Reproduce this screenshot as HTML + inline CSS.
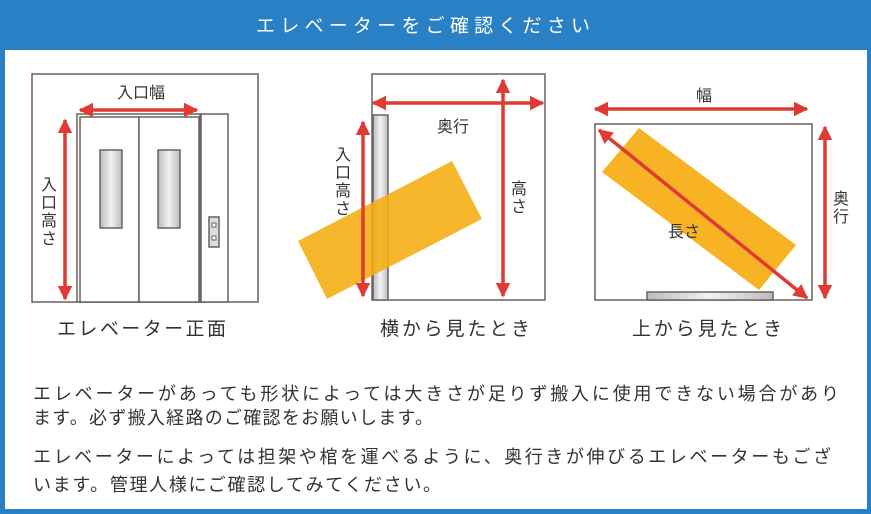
<!DOCTYPE html>
<html><head><meta charset="utf-8"><style>
html,body{margin:0;padding:0;background:#fff;}
svg{display:block;}
text{font-family:"Liberation Sans","Noto Sans CJK JP",sans-serif;fill:#333;}
</style></head><body>
<svg width="871" height="514" viewBox="0 0 871 514" xmlns="http://www.w3.org/2000/svg">
<defs>
<marker id="ah" viewBox="0 0 10 10" refX="9" refY="5" markerWidth="4.2" markerHeight="4.2" orient="auto-start-reverse" markerUnits="strokeWidth">
<path d="M0,0 L10,5 L0,10 z" fill="#e03a34"/></marker>
<linearGradient id="gw" x1="0" x2="1"><stop offset="0" stop-color="#bbb"/><stop offset="0.5" stop-color="#f2f2f2"/><stop offset="1" stop-color="#bbb"/></linearGradient>
</defs>
<rect x="0" y="0" width="871" height="514" fill="#2a80c5"/>
<rect x="5" y="50" width="862" height="459" fill="#fff"/>
<text x="256" y="32" font-size="19" style="fill:#fff" textLength="334">エレベーターをご確認ください</text>

<!-- panel 1 -->
<g stroke="#6a625f" stroke-width="1.5" fill="#fff">
<rect x="32" y="74" width="226" height="228"/>
<rect x="77" y="114" width="123" height="188"/>
<rect x="80" y="117" width="59" height="185"/>
<rect x="139" y="117" width="60" height="185"/>
<rect x="201" y="114" width="27" height="188"/>
<rect x="100" y="150" width="22" height="78" fill="url(#gw)"/>
<rect x="158" y="150" width="22" height="78" fill="url(#gw)"/>
<rect x="209" y="217" width="10" height="30" fill="#ddd"/>
<rect x="212" y="223" width="4" height="4" fill="#fff" stroke-width="1"/>
<rect x="212" y="236" width="4" height="4" fill="#fff" stroke-width="1"/>
</g>
<g stroke="#e03a34" stroke-width="3.5" marker-start="url(#ah)" marker-end="url(#ah)">
<line x1="80" y1="110" x2="197" y2="110"/>
<line x1="65" y1="120" x2="65" y2="299"/>
</g>
<text x="141" y="98" font-size="16" text-anchor="middle">入口幅</text>
<text x="49" y="190" font-size="16" text-anchor="middle">入</text>
<text x="49" y="208" font-size="16" text-anchor="middle">口</text>
<text x="49" y="226" font-size="16" text-anchor="middle">高</text>
<text x="49" y="244" font-size="16" text-anchor="middle">さ</text>
<text x="57" y="335" font-size="19" textLength="169">エレベーター正面</text>

<!-- panel 2 -->
<g stroke="#6a625f" stroke-width="1.5" fill="#fff">
<rect x="372" y="74" width="173" height="226"/>
<rect x="373" y="115" width="15" height="185" fill="url(#gw)"/>
</g>
<polygon points="298,241 452,161 482,219 327,299" fill="#f6ad10" opacity="0.88"/>
<g stroke="#e03a34" stroke-width="3.5" marker-start="url(#ah)" marker-end="url(#ah)">
<line x1="373" y1="103" x2="543" y2="103"/>
<line x1="503" y1="80" x2="503" y2="296"/>
<line x1="363" y1="122" x2="363" y2="296"/>
</g>
<text x="453" y="132" font-size="16" text-anchor="middle">奥行</text>
<text x="519" y="194" font-size="16" text-anchor="middle">高</text>
<text x="519" y="212" font-size="16" text-anchor="middle">さ</text>
<text x="343" y="160" font-size="16" text-anchor="middle">入</text>
<text x="343" y="178" font-size="16" text-anchor="middle">口</text>
<text x="343" y="196" font-size="16" text-anchor="middle">高</text>
<text x="343" y="214" font-size="16" text-anchor="middle">さ</text>
<text x="380" y="335" font-size="19" textLength="150">横から見たとき</text>

<!-- panel 3 -->
<g stroke="#6a625f" stroke-width="1.5" fill="#fff">
<rect x="595" y="124" width="217" height="176"/>
<rect x="647" y="292" width="126" height="8" fill="url(#gw)"/>
</g>
<polygon points="639,128 796,245 759,290 602,172" fill="#f6ad10" opacity="0.92"/>
<g stroke="#e03a34" stroke-width="3.5" marker-start="url(#ah)" marker-end="url(#ah)">
<line x1="595" y1="109" x2="807" y2="109"/>
<line x1="825" y1="127" x2="825" y2="298"/>
<line x1="599" y1="130" x2="807" y2="298"/>
</g>
<text x="704" y="101" font-size="16" text-anchor="middle">幅</text>
<text x="684" y="237" font-size="16" text-anchor="middle">長さ</text>
<text x="841" y="204" font-size="16" text-anchor="middle">奥</text>
<text x="841" y="222" font-size="16" text-anchor="middle">行</text>
<text x="632" y="335" font-size="19" textLength="150">上から見たとき</text>

<!-- text -->
<g font-size="18">
<text x="33" y="400" textLength="806">エレベーターがあっても形状によっては大きさが足りず搬入に使用できない場合があり</text>
<text x="33" y="424" textLength="400">ます。必ず搬入経路のご確認をお願いします。</text>
<text x="33" y="463" textLength="798">エレベーターによっては担架や棺を運べるように、奥行きが伸びるエレベーターもござ</text>
<text x="33" y="491" textLength="408">います。管理人様にご確認してみてください。</text>
</g>
</svg>
</body></html>
